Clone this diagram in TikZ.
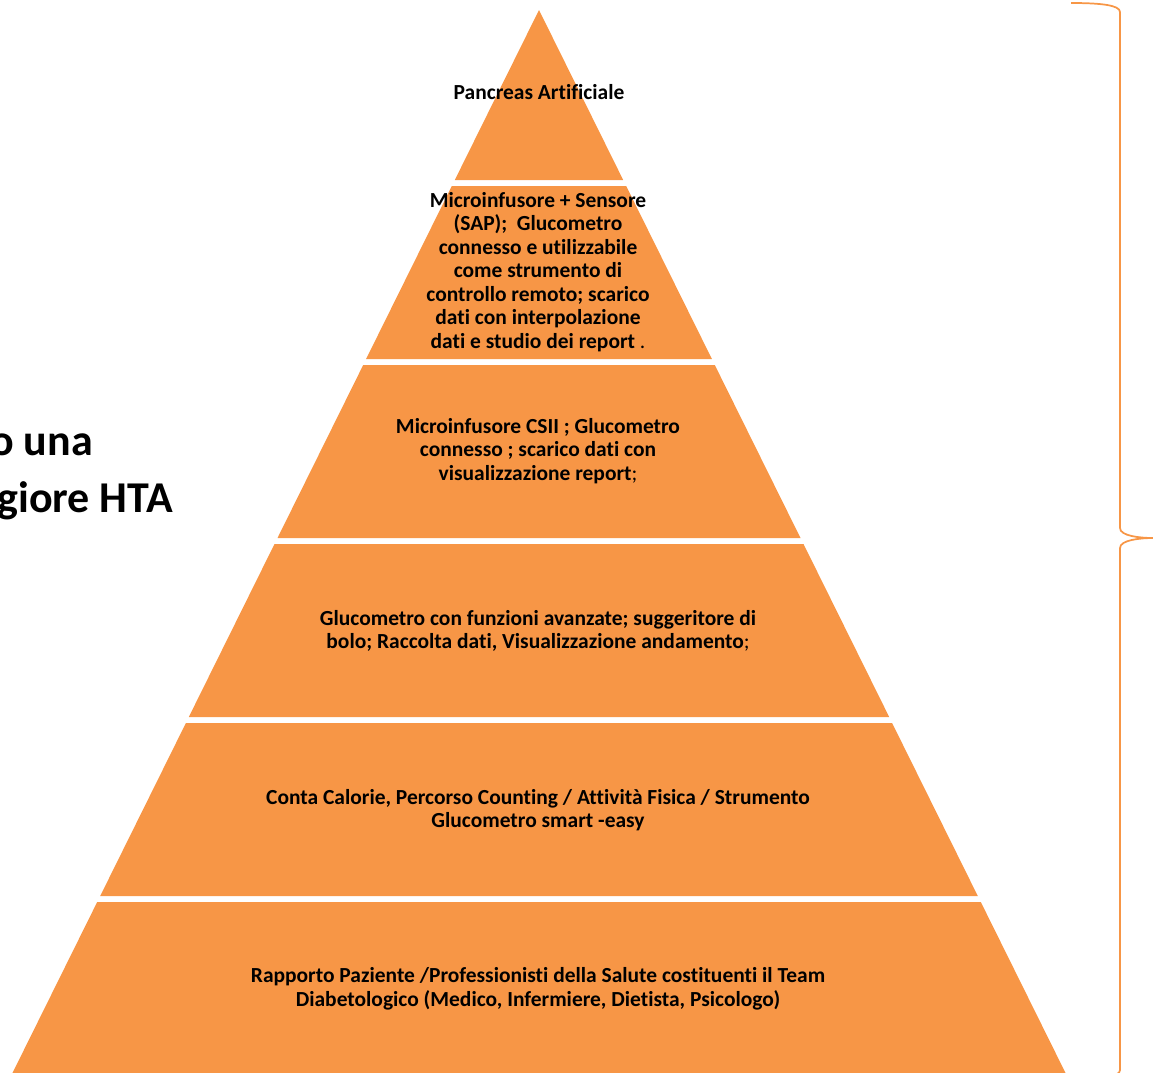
\documentclass[tikz,border=0pt]{standalone}
\usepackage{fontspec}
\setmainfont{Carlito}[Ligatures={NoCommon}]
\definecolor{pyrorange}{HTML}{F79646}

\begin{document}
\begin{tikzpicture}[x=0.75pt, y=-0.75pt]
    \tikzstyle{layer} = [fill=pyrorange, draw=none]
    \tikzstyle{label} = [align=center, font=\fontsize{16.1}{17.6}\selectfont\bfseries, text=black, inner sep=0pt]
    \tikzstyle{sidetext} = [font=\fontsize{33}{42.75}\selectfont\bfseries, text=black, inner sep=0pt]
    \tikzstyle{brace} = [draw=pyrorange, line width=1.3pt]

    \clip (0,0) rectangle (1153,1072);

    % Pyramid layers
    \fill [layer] (539,10) -- (623.2,180) -- (454.8,180) -- cycle;
    \fill [layer] (451.8,186) -- (626.2,186) -- (711.9,359) -- (366.1,359) -- cycle;
    \fill [layer] (363.2,365) -- (714.8,365) -- (800.5,538) -- (277.5,538) -- cycle;
    \fill [layer] (274.5,544) -- (803.5,544) -- (889.2,717) -- (188.8,717) -- cycle;
    \fill [layer] (185.9,723) -- (892.1,723) -- (977.8,896) -- (100.2,896) -- cycle;
    \fill [layer] (97.2,902) -- (980.8,902) -- (1069,1080) -- (9,1080) -- cycle;

    % Layer texts
    \node [label] (artificial) at (539,92) {Pancreas Artificiale};
    \node [label] (sap) at (538,272) {Microinfusore + Sensore\\(SAP);~ Glucometro\\connesso e utilizzabile\\come strumento di\\controllo remoto; scarico\\dati con interpolazione\\dati e studio dei report {\mdseries .}};
    \node [label] (csii) at (538,451) {Microinfusore CSII ; Glucometro\\connesso ; scarico dati con\\visualizzazione report{\mdseries ;}};
    \node [label] (advanced) at (538,631) {Glucometro con funzioni avanzate; suggeritore di\\bolo; Raccolta dati, Visualizzazione andamento{\mdseries ;}};
    \node [label] (counting) at (538,810) {Conta Calorie, Percorso Counting / Attività Fisica / Strumento\\Glucometro smart -easy};
    \node [label] (team) at (538,989) {Rapporto Paziente /Professionisti della Salute costituenti il Team\\Diabetologico (Medico, Infermiere, Dietista, Psicologo)};

    % Side text
    \node [sidetext, anchor=base east] (sideone) at (93,455) {o una};
    \node [sidetext, anchor=base east] (sidetwo) at (173,512) {giore HTA};

    % Brace
    \draw [brace] (1071,3) .. controls (1100,3) and (1120,5) .. (1120,12)
        -- (1120,528) .. controls (1120,536) and (1140,538) .. (1153,538)
        .. controls (1140,538) and (1120,540) .. (1120,548)
        -- (1120,1070) .. controls (1120,1077) and (1100,1080) .. (1071,1080);
\end{tikzpicture}
\end{document}
